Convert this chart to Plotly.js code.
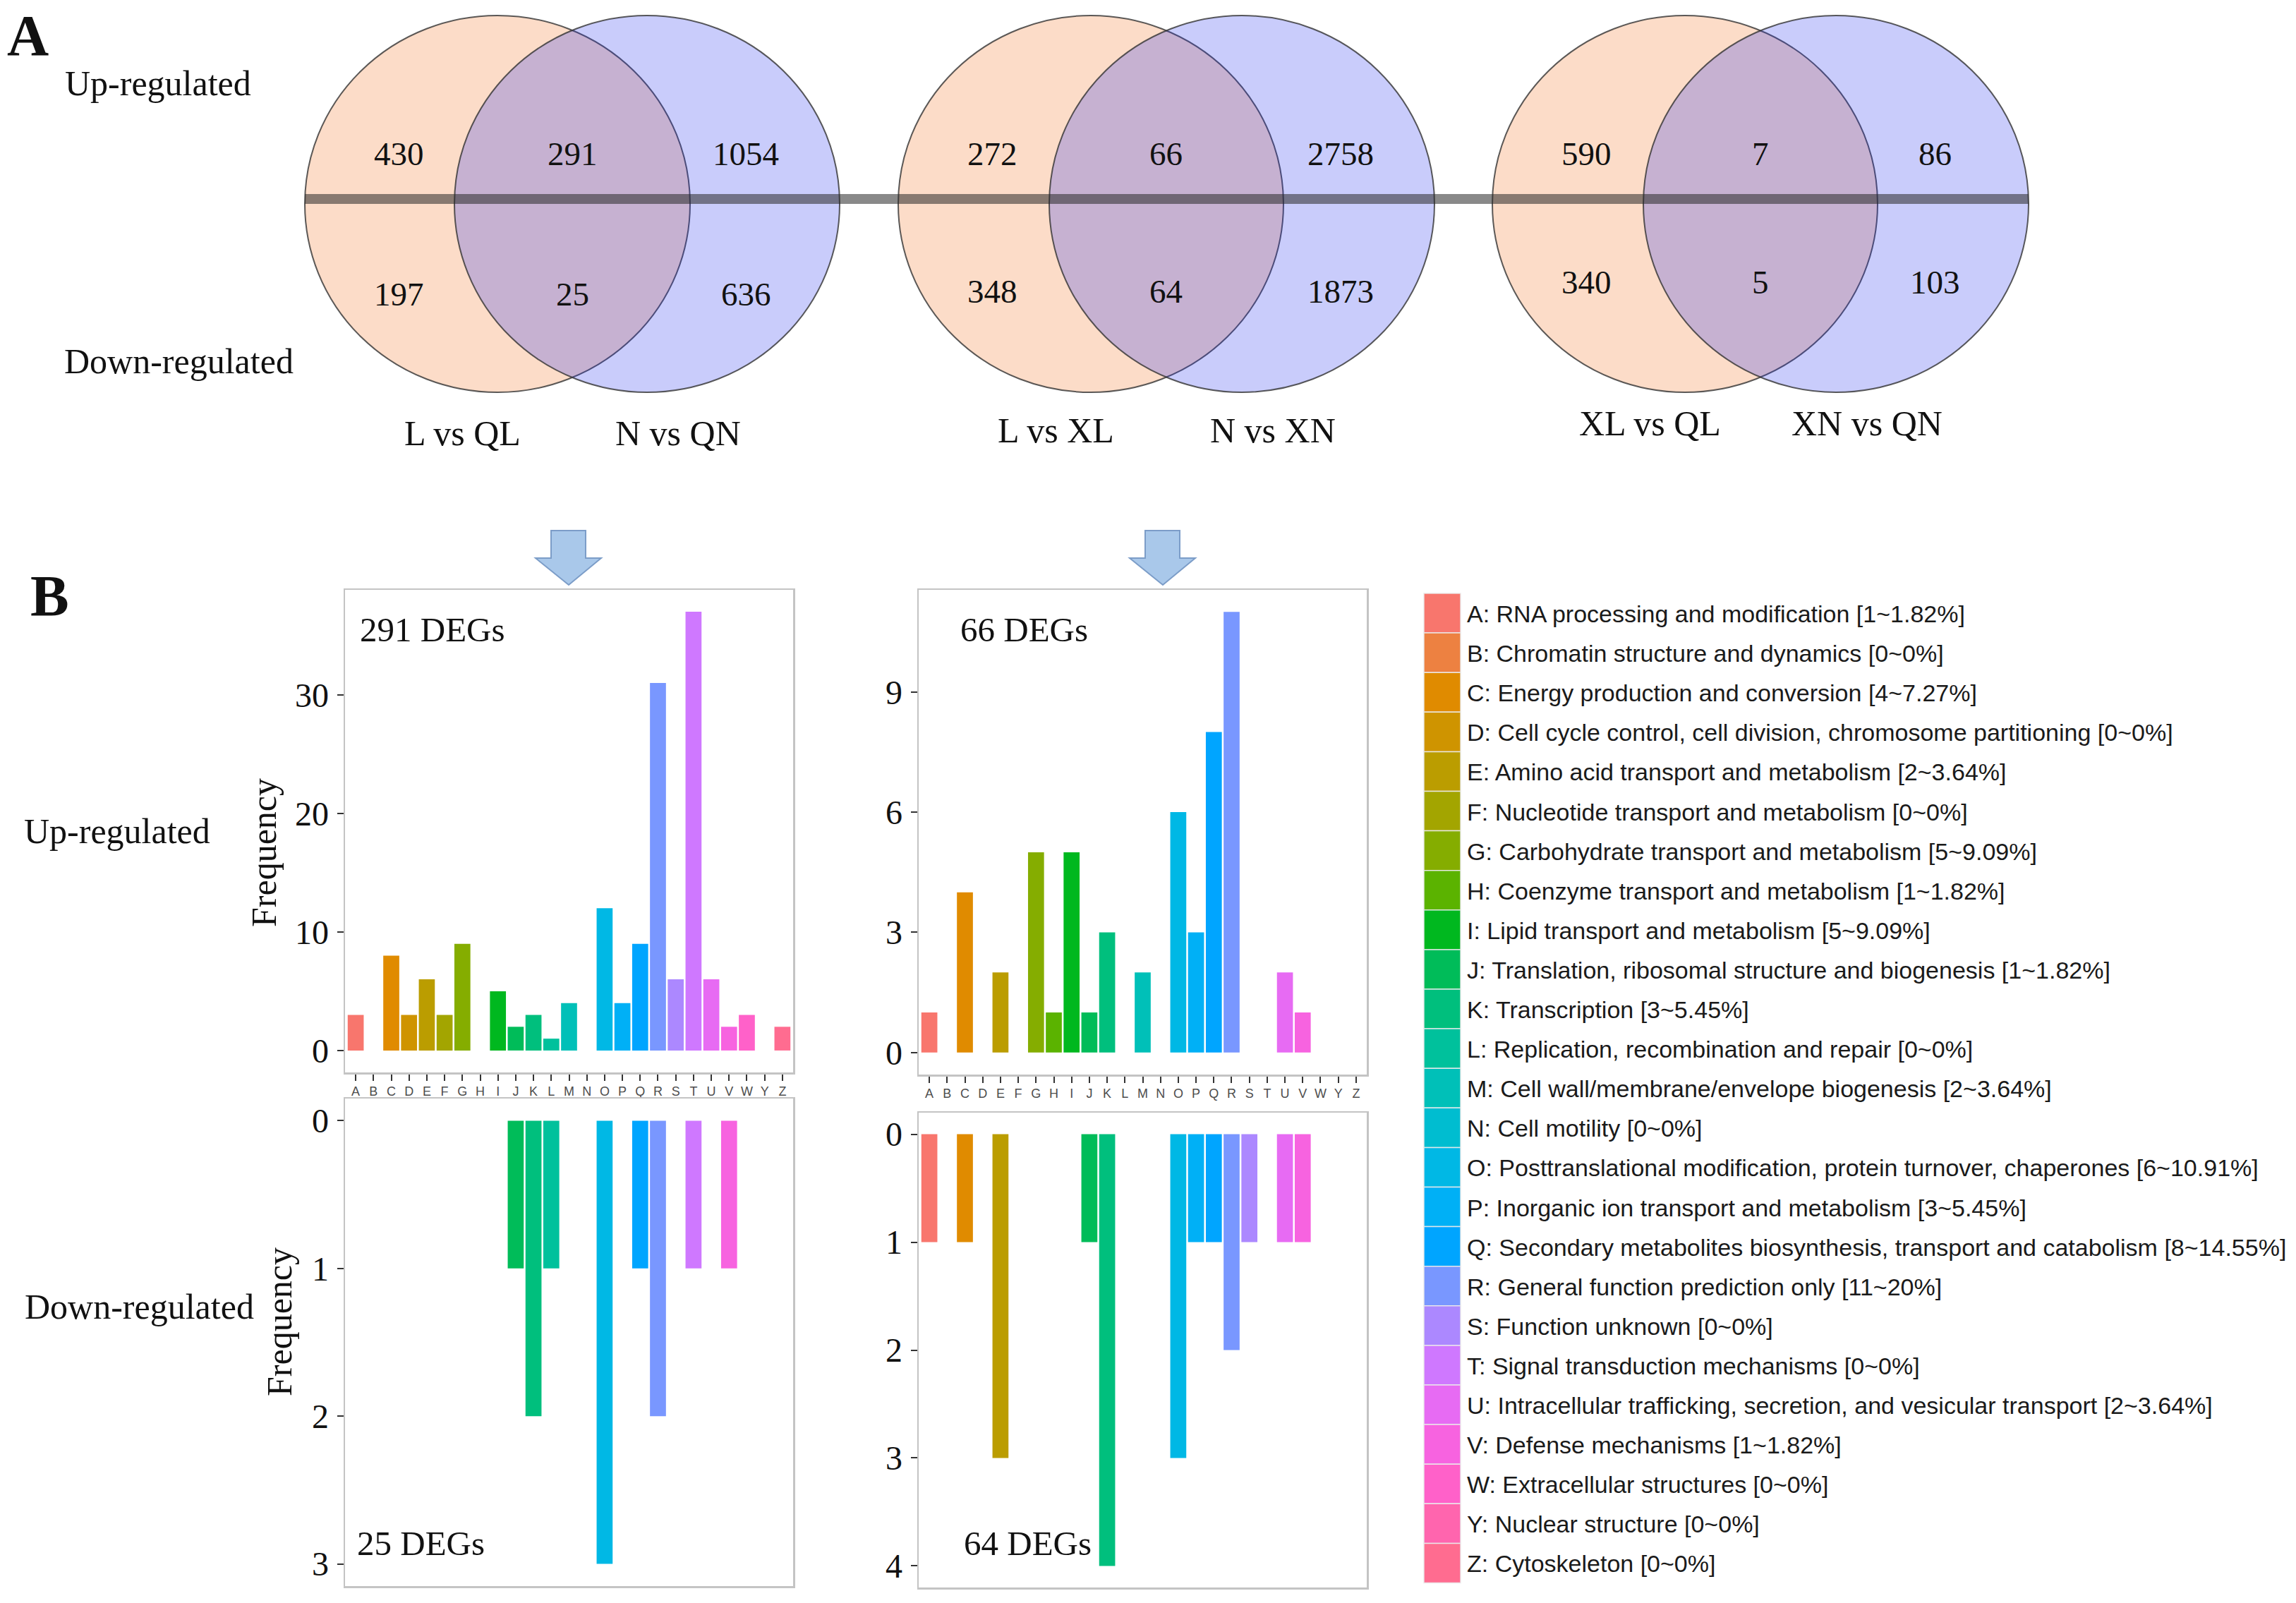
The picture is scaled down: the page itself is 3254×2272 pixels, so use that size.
<!DOCTYPE html>
<html>
<head>
<meta charset="utf-8">
<script src="https://cdn.plot.ly/plotly-3.0.1.min.js"></script>
<style>html,body{margin:0;padding:0;background:#fff;}#chart{width:3254px;height:2272px;}</style>
</head>
<body>
<div id="chart"></div>
<script>
// ---------------- DATA ----------------
const categories = ['A','B','C','D','E','F','G','H','I','J','K','L','M','N','O','P','Q','R','S','T','U','V','W','Y','Z'];
const up291   = [3,0,8,3,6,3,9,0,5,2,3,1,4,0,12,4,9,31,6,37,6,2,3,0,2];
const up66    = [1,0,4,0,2,0,5,1,5,1,3,0,2,0,6,3,8,11,0,0,2,1,0,0,0];
const down25  = [0,0,0,0,0,0,0,0,0,1,2,1,0,0,3,0,1,2,0,1,0,1,0,0,0];
const down64  = [1,0,1,0,3,0,0,0,0,1,4,0,0,0,3,1,1,2,1,0,1,1,0,0,0];
const chartLabels = ['291 DEGs','66 DEGs','25 DEGs','64 DEGs'];
const legendLabels = [
  'A: RNA processing and modification [1~1.82%]',
  'B: Chromatin structure and dynamics [0~0%]',
  'C: Energy production and conversion [4~7.27%]',
  'D: Cell cycle control, cell division, chromosome partitioning [0~0%]',
  'E: Amino acid transport and metabolism [2~3.64%]',
  'F: Nucleotide transport and metabolism [0~0%]',
  'G: Carbohydrate transport and metabolism [5~9.09%]',
  'H: Coenzyme transport and metabolism [1~1.82%]',
  'I: Lipid transport and metabolism [5~9.09%]',
  'J: Translation, ribosomal structure and biogenesis [1~1.82%]',
  'K: Transcription [3~5.45%]',
  'L: Replication, recombination and repair [0~0%]',
  'M: Cell wall/membrane/envelope biogenesis [2~3.64%]',
  'N: Cell motility [0~0%]',
  'O: Posttranslational modification, protein turnover, chaperones [6~10.91%]',
  'P: Inorganic ion transport and metabolism [3~5.45%]',
  'Q: Secondary metabolites biosynthesis, transport and catabolism [8~14.55%]',
  'R: General function prediction only [11~20%]',
  'S: Function unknown [0~0%]',
  'T: Signal transduction mechanisms [0~0%]',
  'U: Intracellular trafficking, secretion, and vesicular transport [2~3.64%]',
  'V: Defense mechanisms [1~1.82%]',
  'W: Extracellular structures [0~0%]',
  'Y: Nuclear structure [0~0%]',
  'Z: Cytoskeleton [0~0%]'
];
const vennLeftNames  = ['L vs QL','L vs XL','XL vs QL'];
const vennRightNames = ['N vs QN','N vs XN','XN vs QN'];
const vennUpLeft     = [430, 272, 590];
const vennUpShared   = [291, 66, 7];
const vennUpRight    = [1054, 2758, 86];
const vennDownLeft   = [197, 348, 340];
const vennDownShared = [25, 64, 5];
const vennDownRight  = [636, 1873, 103];

// ---------------- HELPERS ----------------
const W = 3254, H = 2272;
const px = x => x / W;
const py = y => 1 - y / H;
const SERIF = 'Liberation Serif, Times New Roman, serif';
const SANS = 'Liberation Sans, Arial, sans-serif';

function hcl2hex(h, c, l) {
  const hr = h * Math.PI / 180;
  const U = c * Math.cos(hr), V = c * Math.sin(hr);
  const Xn = 95.047, Yn = 100.0, Zn = 108.883;
  const Y = l > 8 ? Yn * Math.pow((l + 16) / 116, 3) : Yn * l / 903.3;
  const den = Xn + 15 * Yn + 3 * Zn;
  const un = 4 * Xn / den, vn = 9 * Yn / den;
  const u = U / (13 * l) + un, v = V / (13 * l) + vn;
  const X = 9 * Y * u / (4 * v);
  const Z = -X / 3 - 5 * Y + 3 * Y / v;
  const x = X / 100, y = Y / 100, z = Z / 100;
  let rgb = [
    3.240479 * x - 1.537150 * y - 0.498535 * z,
    -0.969256 * x + 1.875992 * y + 0.041556 * z,
    0.055648 * x - 0.204043 * y + 1.057311 * z
  ];
  rgb = rgb.map(t => {
    t = t <= 0.0031308 ? 12.92 * t : 1.055 * Math.pow(t, 1 / 2.4) - 0.055;
    t = Math.max(0, Math.min(1, t));
    return Math.round(t * 255).toString(16).padStart(2, '0');
  });
  return '#' + rgb.join('');
}
const nCat = categories.length;
const catColors = categories.map((_, i) => hcl2hex(15 + i * 360 / nCat, 100, 65));

// ---------------- TRACES ----------------
function barTrace(vals, xa, ya) {
  return {
    type: 'bar', x: categories, y: vals, xaxis: xa, yaxis: ya,
    width: 0.9, marker: {color: catColors, line: {width: 0}},
    hoverinfo: 'skip', showlegend: false
  };
}
const data = [
  barTrace(up291, 'x', 'y'),
  barTrace(up66, 'x2', 'y2'),
  barTrace(down25, 'x3', 'y3'),
  barTrace(down64, 'x4', 'y4')
];

// ---------------- AXES ----------------
const FRAME = '#C4C4C4';
function xAx(x0, x1, showLabels, anchor) {
  return {
    domain: [px(x0), px(x1)], anchor: anchor, type: 'category', categoryorder: 'array', categoryarray: categories,
    range: [-0.6, nCat - 0.4], showline: true, mirror: true, linecolor: FRAME, linewidth: 2.5,
    ticks: showLabels ? 'outside' : '', ticklen: 9, tickwidth: 2, tickcolor: '#333',
    showticklabels: showLabels, tickfont: {family: SANS, size: 18, color: '#4d4d4d'},
    showgrid: false, zeroline: false, fixedrange: true
  };
}
function yAx(top, bottom, range, tickvals, anchor) {
  return {
    domain: [py(bottom), py(top)], anchor: anchor, range: range, tickmode: 'array', tickvals: tickvals,
    showline: true, mirror: true, linecolor: FRAME, linewidth: 2.5,
    ticks: 'outside', ticklen: 9, tickwidth: 2, tickcolor: '#333', ticklabelstandoff: 2,
    tickfont: {family: SERIF, size: 48, color: '#111'},
    showgrid: false, zeroline: false, fixedrange: true
  };
}

// ---------------- SHAPES ----------------
const shapes = [];
const annotations = [];
function txt(x, y, text, size, opts) {
  annotations.push(Object.assign({
    xref: 'paper', yref: 'paper', x: px(x), y: py(y), text: text, showarrow: false,
    xanchor: 'center', yanchor: 'middle', font: {family: SERIF, size: size, color: '#111'}
  }, opts || {}));
}

// Venn diagrams
const vennCL = [705, 1546, 2388], vennCR = [917, 1760, 2602];
const vennCY = 289, vennRX = 273, vennRY = 267;
const downRowY = [417, 413, 400], labelY = [614, 610, 600];
for (let i = 0; i < 3; i++) {
  shapes.push({type: 'circle', xref: 'paper', yref: 'paper',
    x0: px(vennCL[i] - vennRX), x1: px(vennCL[i] + vennRX), y0: py(vennCY + vennRY), y1: py(vennCY - vennRY),
    fillcolor: '#FCDCC8', line: {color: 'rgba(50,50,50,0.8)', width: 2}});
  shapes.push({type: 'circle', xref: 'paper', yref: 'paper',
    x0: px(vennCR[i] - vennRX), x1: px(vennCR[i] + vennRX), y0: py(vennCY + vennRY), y1: py(vennCY - vennRY),
    fillcolor: 'rgba(30,42,238,0.24)', line: {color: 'rgba(50,50,50,0.8)', width: 2}});
  const mid = (vennCL[i] + vennCR[i]) / 2;
  txt(vennCL[i] - 140, 218, String(vennUpLeft[i]), 47);
  txt(mid, 218, String(vennUpShared[i]), 47);
  txt(vennCR[i] + 140, 218, String(vennUpRight[i]), 47);
  txt(vennCL[i] - 140, downRowY[i], String(vennDownLeft[i]), 47);
  txt(mid, downRowY[i], String(vennDownShared[i]), 47);
  txt(vennCR[i] + 140, downRowY[i], String(vennDownRight[i]), 47);
  txt(vennCL[i] - 50, labelY[i], vennLeftNames[i], 50);
  txt(vennCR[i] + 44, labelY[i], vennRightNames[i], 50);
}
shapes.push({type: 'line', xref: 'paper', yref: 'paper',
  x0: px(vennCL[0] - vennRX), x1: px(vennCR[2] + vennRX), y0: py(282), y1: py(282),
  line: {color: 'rgba(40,40,40,0.55)', width: 14}});

// Arrows
function arrow(cx) {
  const P = (x, y) => px(x) + ',' + py(y);
  const path = 'M ' + P(cx - 25, 752) + ' L ' + P(cx + 24, 752) + ' L ' + P(cx + 24, 791) + ' L ' + P(cx + 46, 791) +
    ' L ' + P(cx, 829) + ' L ' + P(cx - 47, 791) + ' L ' + P(cx - 25, 791) + ' Z';
  shapes.push({type: 'path', xref: 'paper', yref: 'paper', path: path,
    fillcolor: '#A9C8EA', line: {color: '#7C9DC8', width: 2}});
}
arrow(806);
arrow(1648);

// Legend
const legTop = 841, legRow = 56.1;
legendLabels.forEach((lab, i) => {
  shapes.push({type: 'rect', xref: 'paper', yref: 'paper',
    x0: px(2018), x1: px(2070), y0: py(legTop + (i + 1) * legRow), y1: py(legTop + i * legRow),
    fillcolor: catColors[i], line: {color: 'rgba(235,235,235,0.9)', width: 1.5}});
  txt(2077, legTop + (i + 0.5) * legRow + 1, lab, 34,
    {xanchor: 'left', font: {family: SANS, size: 34, color: '#1a1a1a'}});
});

// Panel texts
txt(39, 50, '<b>A</b>', 82);
txt(70, 844, '<b>B</b>', 82);
txt(224, 118, 'Up-regulated', 50);
txt(253, 512, 'Down-regulated', 50);
txt(166, 1178, 'Up-regulated', 50);
txt(197, 1852, 'Down-regulated', 50);
txt(374, 1209, 'Frequency', 50, {textangle: -90});
txt(396, 1874, 'Frequency', 50, {textangle: -90});
txt(508, 893, chartLabels[0], 49, {xanchor: 'left'});
txt(1359, 893, chartLabels[1], 49, {xanchor: 'left'});
txt(504, 2187, chartLabels[2], 49, {xanchor: 'left'});
txt(1364, 2187, chartLabels[3], 49, {xanchor: 'left'});

// ---------------- LAYOUT ----------------
const layout = {
  width: W, height: H, margin: {l: 0, r: 0, t: 0, b: 0},
  paper_bgcolor: '#ffffff', plot_bgcolor: 'rgba(0,0,0,0)',
  showlegend: false, font: {family: SERIF},
  xaxis:  xAx(489, 1124, true, 'y'),
  yaxis:  yAx(836, 1520, [-1.85, 38.85], [0, 10, 20, 30], 'x'),
  xaxis2: xAx(1302, 1937, true, 'y2'),
  yaxis2: yAx(836, 1523, [-0.55, 11.55], [0, 3, 6, 9], 'x2'),
  xaxis3: xAx(489, 1124, false, 'y3'),
  yaxis3: yAx(1557, 2248, [3.15, -0.15], [0, 1, 2, 3], 'x3'),
  xaxis4: xAx(1302, 1937, false, 'y4'),
  yaxis4: yAx(1577, 2250, [4.2, -0.2], [0, 1, 2, 3, 4], 'x4'),
  shapes: shapes,
  annotations: annotations
};
Plotly.newPlot('chart', data, layout, {displayModeBar: false, staticPlot: true});
</script>
</body>
</html>
